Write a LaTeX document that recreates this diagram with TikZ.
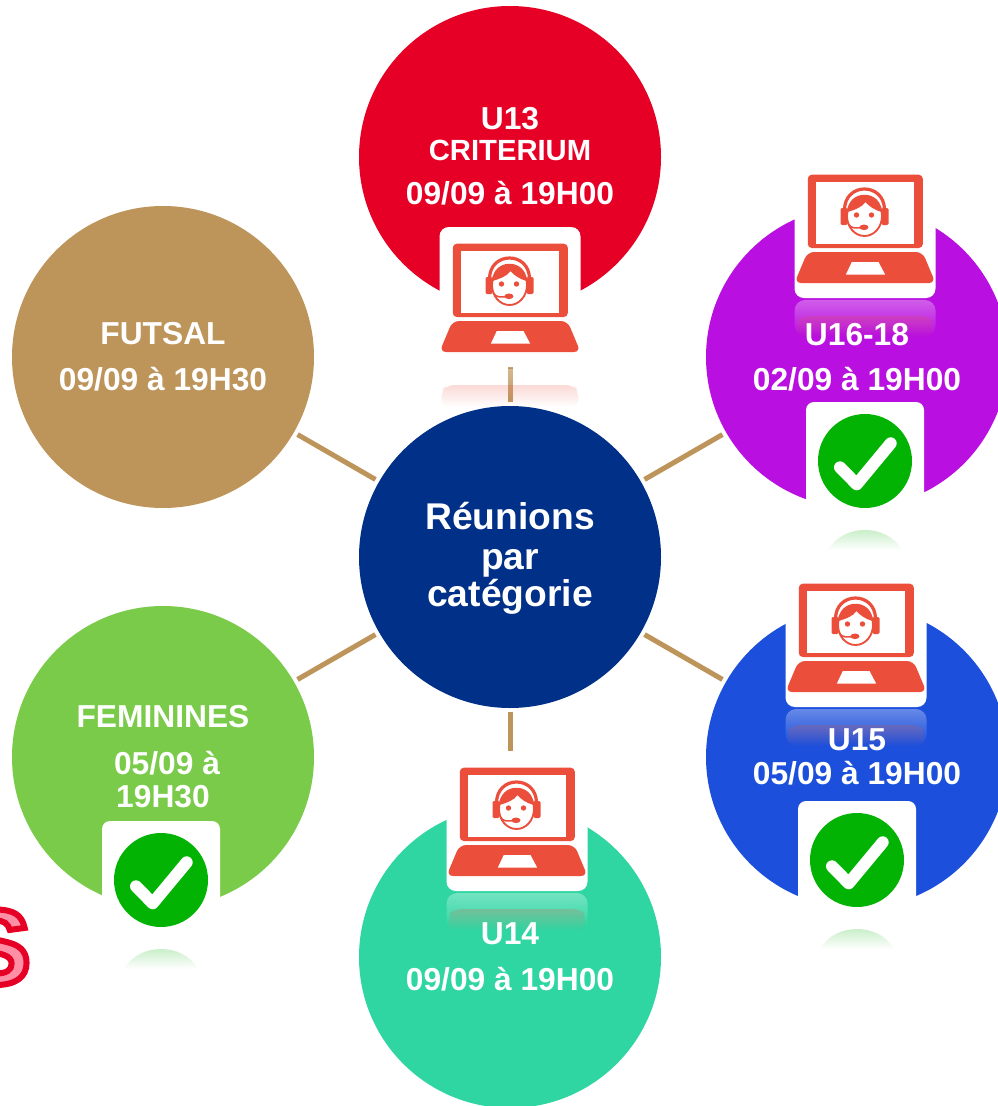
\documentclass[tikz,border=0pt]{standalone}
\usepackage{fontspec}
\setmainfont{Liberation Sans}
\usetikzlibrary{fadings}
\definecolor{hubblue}{HTML}{003087}
\definecolor{spoketan}{HTML}{BD955A}
\definecolor{crimson}{HTML}{E60026}
\definecolor{violetcat}{HTML}{B90FE0}
\definecolor{bluecat}{HTML}{1C50DC}
\definecolor{tealcat}{HTML}{2FD6A2}
\definecolor{greencat}{HTML}{7ACB4A}
\definecolor{laptopred}{HTML}{EB4F3C}
\definecolor{checkgreen}{HTML}{03B303}
\definecolor{letterpink}{HTML}{FF8FA5}
\tikzfading[name=fadedown, top color=transparent!79, bottom color=transparent!100]
\tikzfading[name=fadelight, top color=transparent!67, bottom color=transparent!100]
\tikzset{
	bubble/.style={circle, fill=#1, inner sep=0pt, minimum size=226.5pt},
	spoke/.style={draw=spoketan, line width=3.75pt, shorten <=3pt, shorten >=3pt},
	lbl/.style={text=white, anchor=base, inner sep=0pt, font=\bfseries\fontsize{23.8}{24}\selectfont},
	lblsmall/.style={lbl, font=\bfseries\fontsize{21.9}{22}\selectfont},
	lblhub/.style={lbl, font=\bfseries\fontsize{27.9}{28}\selectfont},
	laptop/.pic={
		% reflection
		\fill[white, path fading=fadelight, rounded corners=8] (0,142) rectangle (141,178);
		\fill[laptopred, path fading=fadedown, rounded corners=6] (2,180) -- (2,164) -- (7,158) -- (134,158) -- (139,164) -- (139,180) -- cycle;
		% box
		\fill[white, rounded corners=7] (0,0) rectangle (141,140);
		% screen
		\fill[laptopred, rounded corners=3] (13.3,16.7) rectangle (128.3,90);
		\fill[white] (21.7,24) rectangle (119.7,85.7);
		% base
		\fill[laptopred, rounded corners=5] (13,94) -- (128,94) -- (141,125) -- (0,125) -- cycle;
		\fill[white] (57.3,104) -- (84,104) -- (90.7,116.7) -- (51.3,116.7) -- cycle;
		% head
		\draw[laptopred, line width=2.4pt] (50,52) .. controls (50,24) and (90,24) .. (90,52);
		\fill[laptopred, rounded corners=1] (46,50) rectangle (53,67);
		\fill[laptopred, rounded corners=1] (87,50) rectangle (94,67);
		\filldraw[fill=white, draw=laptopred, line width=1.4pt] (70,58) ellipse[x radius=17.5, y radius=20];
		\fill[laptopred] (53,54) .. controls (53,31) and (87,31) .. (87,54) .. controls (80,52) and (74,48) .. (71,44) .. controls (68,49) and (60,52) .. (53,54) -- cycle;
		\fill[laptopred] (62,57) circle[radius=2.7];
		\fill[laptopred] (77,57) circle[radius=2.7];
		\draw[laptopred, line width=1.2pt] (54,66) .. controls (56,71) and (62,70) .. (68,69.5);
		\fill[laptopred] (69.5,69.3) ellipse[x radius=4.5, y radius=2.8];
	},
	checkmark/.pic={
		% reflection
		\fill[checkgreen, path fading=fadedown] (22,148) .. controls (30,134) and (45,128) .. (59,128) .. controls (73,128) and (88,134) .. (96,148) -- cycle;
		% box
		\fill[white, rounded corners=6] (0,0) rectangle (118,117);
		\fill[checkgreen] (59,59) circle[radius=47];
		\draw[white, line width=9pt, line cap=round, line join=round] (34,65.3) -- (50.7,82.3) -- (84.7,41.3);
	},
}

\begin{document}
\begin{tikzpicture}[x=.75pt,y=-.75pt]

	\fill[white] (0,0) rectangle (997,1106);
	\useasboundingbox (0,0) rectangle (997,1106);

	% letter cut by the left edge
	\node[anchor=base east, inner sep=0pt, text=letterpink, font=\bfseries\fontsize{80}{80}\selectfont] (letterS) at (31,984) {\special{pdf:code 2 Tr 4.5 w 0.902 0 0.149 RG}S\special{pdf:code 0 Tr}};

	% Circles
	\node[bubble=hubblue] (hub) at (510,557) {};
	\node[bubble=crimson] (u13) at (510,157) {};
	\node[bubble=violetcat] (u16) at (857,357) {};
	\node[bubble=bluecat] (u15) at (857,757) {};
	\node[bubble=tealcat] (u14) at (510,957) {};
	\node[bubble=greencat] (fem) at (163,757) {};
	\node[bubble=spoketan] (futsal) at (163,357) {};

	% Spokes
	\draw[spoke] (hub) -- (u13);
	\draw[spoke] (hub) -- (u16);
	\draw[spoke] (hub) -- (u15);
	\draw[spoke] (hub) -- (u14);
	\draw[spoke] (hub) -- (fem);
	\draw[spoke] (hub) -- (futsal);

	% Icons
	\pic at (439.5,227) {laptop};
	\pic at (794.5,158) {laptop};
	\pic at (785.5,567) {laptop};
	\pic at (446.5,751) {laptop};
	\pic at (806,402) {checkmark};
	\pic at (798,801) {checkmark};
	\pic at (102,821) {checkmark};

	% Labels
	\node[lblhub] (hubA) at (510,529) {Réunions};
	\node[lblhub] (hubB) at (510,569) {par};
	\node[lblhub] (hubC) at (510,606) {catégorie};

	\node[lbl] (u13A) at (510,129) {U13};
	\node[lblsmall] (u13B) at (510,160) {CRITERIUM};
	\node[lbl] (u13C) at (510,204) {09/09 à 19H00};

	\node[lbl] (u16A) at (857,345) {U16-18};
	\node[lbl] (u16B) at (857,390) {02/09 à 19H00};

	\node[lbl] (u15A) at (857,750) {U15};
	\node[lbl] (u15B) at (857,784) {05/09 à 19H00};

	\node[lbl] (u14A) at (510,944) {U14};
	\node[lbl] (u14B) at (510,990) {09/09 à 19H00};

	\node[lbl] (femA) at (163,727) {FEMININES};
	\node[lbl] (femB) at (167,774) {05/09 à};
	\node[lbl] (femC) at (163,807) {19H30};

	\node[lbl] (futsalA) at (163,344) {FUTSAL};
	\node[lbl] (futsalB) at (163,390) {09/09 à 19H30};

\end{tikzpicture}
\end{document}
